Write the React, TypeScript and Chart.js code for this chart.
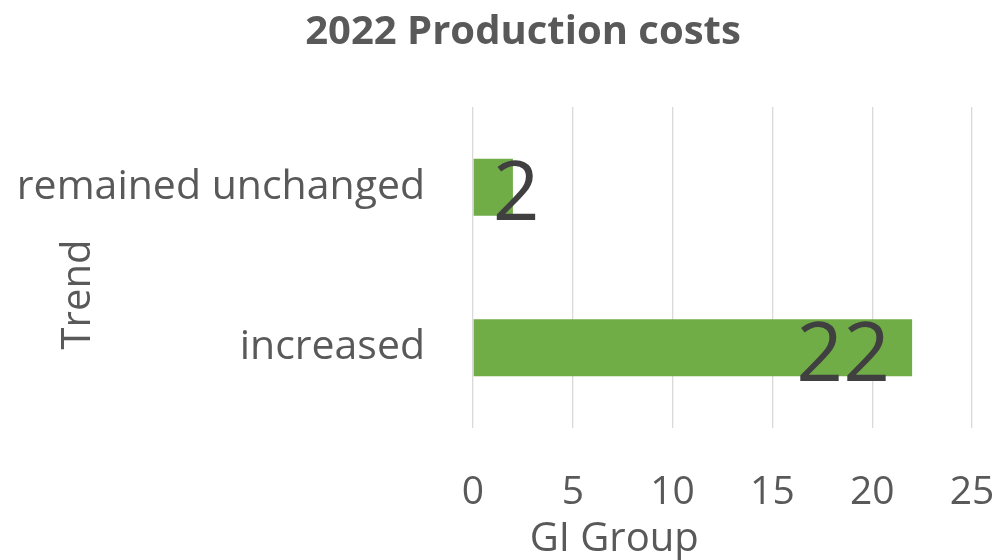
import React, { useEffect, useRef } from "react";
import { Chart, registerables } from "chart.js";

Chart.register(...registerables);

const titleText = "2022 Production costs";
const categories = ["remained unchanged", "increased"];
const values = [2, 22];
const xTicks = [0, 5, 10, 15, 20, 25];
const xTitle = "GI Group";
const yTitle = "Trend";

const FONT = "'Open Sans', 'Noto Sans', sans-serif";

const decor = {
  id: "decor",
  afterDatasetsDraw(chart: any) {
    const { ctx, chartArea } = chart;
    const meta = chart.getDatasetMeta(0);
    ctx.save();
    // data labels
    ctx.fillStyle = "#404040";
    ctx.font = `82px ${FONT}`;
    ctx.textBaseline = "alphabetic";
    ctx.textAlign = "left";
    meta.data.forEach((bar: any, i: number) => {
      const txt = String(values[i]);
      const w = ctx.measureText(txt).width;
      const left = Math.max(bar.x - 22 - w, bar.base + 19);
      ctx.fillText(txt, left, bar.y + 33);
    });
    // title
    ctx.fillStyle = "#595959";
    ctx.font = `bold 40px ${FONT}`;
    ctx.textAlign = "center";
    ctx.fillText(titleText, 523, 44);
    // x axis title
    ctx.font = `40px ${FONT}`;
    ctx.fillText(xTitle, chartArea.left + (chartArea.right - chartArea.left) * 0.283, 551);
    // y axis title
    ctx.translate(90, (chartArea.top + chartArea.bottom) / 2 + 27);
    ctx.rotate(-Math.PI / 2);
    ctx.fillText(yTitle, 0, 0);
    ctx.restore();
  },
};

export default function App() {
  const ref = useRef<HTMLCanvasElement | null>(null);
  useEffect(() => {
    if (!ref.current) return;
    const chart = new Chart(ref.current, {
      type: "bar",
      data: {
        labels: categories,
        datasets: [
          {
            data: values,
            backgroundColor: "#70AD47",
            borderWidth: 0,
            barPercentage: 0.355,
            categoryPercentage: 1,
          },
        ],
      },
      options: {
        indexAxis: "y",
        animation: false,
        responsive: false,
        maintainAspectRatio: false,
        layout: { padding: { top: 107, right: 25, left: 0, bottom: 0 } },
        plugins: {
          legend: { display: false },
          title: { display: false },
          tooltip: { enabled: false },
        },
        scales: {
          x: {
            min: 0,
            max: 25,
            afterBuildTicks: (s: any) => {
              s.ticks = xTicks.map((v) => ({ value: v }));
            },
            afterFit: (s: any) => {
              s.height = 560 - 428;
              s.paddingLeft = 0;
              s.paddingRight = 0;
            },
            grid: { color: "#d9d9d9", lineWidth: 1.3, drawTicks: false },
            border: { display: false },
            ticks: {
              color: "#595959",
              font: { family: FONT, size: 39 },
              padding: 41,
              maxRotation: 0,
            },
          },
          y: {
            afterFit: (s: any) => {
              s.width = 473;
              s.paddingTop = 0;
              s.paddingBottom = 0;
            },
            grid: { display: false, drawTicks: false },
            border: { display: false },
            ticks: {
              color: "#595959",
              font: { family: FONT, size: 41 },
              padding: 48,
            },
          },
        },
      },
      plugins: [decor],
    });
    return () => chart.destroy();
  }, []);
  return (
    <div style={{ position: "fixed", left: 0, top: 0, width: 997, height: 560, background: "#fff" }}>
      <canvas ref={ref} width={997} height={560} style={{ width: 997, height: 560 }} />
    </div>
  );
}
